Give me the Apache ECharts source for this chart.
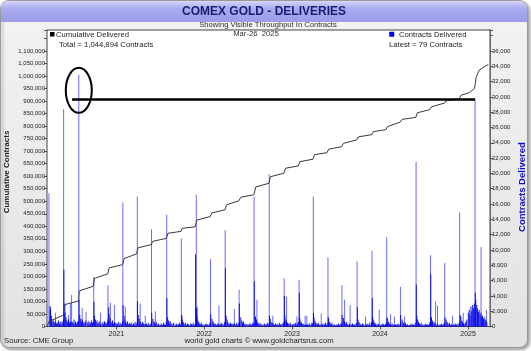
<!DOCTYPE html>
<html><head><meta charset="utf-8">
<script src="https://cdn.jsdelivr.net/npm/echarts@6/dist/echarts.min.js"></script>
<style>html,body{margin:0;padding:0;background:#fff}#c{width:531px;height:351px}</style>
</head><body><div id="c"></div>
<script>
// ---------- DATA ----------
const cumDates = ['2020-03-21','2020-03-27','2020-05-26','2020-05-29','2020-06-03','2020-07-28','2020-07-31','2020-08-05',
 '2020-09-28','2020-10-02','2020-11-26','2020-12-02','2021-01-27','2021-02-02','2021-03-26','2021-04-01',
 '2021-05-26','2021-06-01','2021-07-28','2021-08-03','2021-09-27','2021-10-01','2021-11-24','2021-12-02',
 '2022-01-26','2022-02-01','2022-03-28','2022-04-04','2022-05-25','2022-06-02','2022-07-26','2022-08-03',
 '2022-09-27','2022-10-03','2022-11-28','2022-12-05','2023-01-27','2023-02-02','2023-03-29','2023-04-04',
 '2023-05-26','2023-06-02','2023-07-26','2023-08-02','2023-09-26','2023-10-03','2023-11-28','2023-12-04',
 '2024-01-26','2024-02-01','2024-03-25','2024-04-02','2024-05-29','2024-06-04','2024-07-26','2024-08-02',
 '2024-09-25','2024-10-01','2024-11-26','2024-12-02','2025-01-07','2025-01-28','2025-02-04','2025-02-17',
 '2025-03-17','2025-03-26'];
const cumValues = [3000,20000,45000,80000,88000,102000,142000,148000,
 161000,192000,210000,234000,247000,271000,290000,314000,
 327000,340000,352000,372000,380000,392000,398000,425000,
 439000,453000,466000,486000,502000,516000,526000,557000,
 572000,598000,612000,632000,641000,658000,668000,686000,
 694000,708000,718000,731000,745000,757000,766000,778000,
 786000,798000,816000,827000,835000,853000,866000,877000,
 892000,901000,909000,923000,934000,951000,997000,1024000,
 1042000,1044894];

// isolated (light) daily spikes
const peakDates = ['2020-03-27','2020-04-03','2020-04-23','2020-05-27','2020-06-16','2020-06-24','2020-06-29','2020-07-29',
 '2020-08-12','2020-08-28','2020-09-29','2020-10-27','2020-11-27','2020-12-07','2020-12-24',
 '2021-01-28','2021-02-07','2021-03-29','2021-04-10','2021-05-01','2021-05-27','2021-06-12','2021-07-29',
 '2021-09-28','2021-10-01','2021-11-29','2021-12-03','2022-01-27','2022-03-03',
 '2022-03-29','2022-05-06','2022-05-26','2022-07-27','2022-08-08','2022-09-28','2022-10-13','2022-11-29','2022-12-09',
 '2023-01-21','2023-01-30','2023-02-24','2023-03-03','2023-03-30','2023-05-02','2023-05-30','2023-07-27','2023-08-07','2023-08-30',
 '2023-09-28','2023-11-02','2023-11-29','2023-12-29','2024-01-29','2024-02-14','2024-03-01','2024-03-26','2024-04-12','2024-05-30','2024-07-29',
 '2024-08-19','2024-08-27','2024-09-26','2024-10-28','2024-11-27','2024-12-12','2025-01-30','2025-02-24','2025-03-18','2025-03-26'];
const peakValues = [17400,2600,1800,28400,1500,3100,4100,32900,
 2400,1900,6500,1800,5400,3100,2800,
 16200,2600,17000,3000,1400,12700,2000,14600,
 11500,1400,17200,2600,8800,2700,
 12600,2300,4800,17000,3500,19900,1400,6300,3900,
 1300,6100,1400,1400,17000,1700,9000,5400,3500,2800,
 8500,1300,9900,2200,11700,1600,1300,5200,1300,21500,9300,
 3300,2700,8300,1400,14900,1800,29700,10400,2200,79];

// dense (dark) companion days next to the spikes
const clusterDates = ['2020-03-31','2020-05-28','2020-06-01','2020-07-30','2020-09-30','2020-11-30','2021-01-29','2021-03-30',
 '2021-05-28','2021-07-30','2021-09-29','2021-11-26','2021-11-30','2022-01-28','2022-03-30','2022-05-27',
 '2022-07-28','2022-09-29','2022-11-30','2023-01-31','2023-03-31','2023-05-31','2023-07-28','2023-09-29',
 '2023-11-30','2024-01-30','2024-03-27','2024-05-31','2024-07-30','2024-09-27','2024-11-29','2025-01-31'];
const clusterValues = [2600,7400,3000,3500,3200,2500,2800,3300,
 1800,3700,1500,9400,2400,1600,7600,3000,
 5900,1400,4000,4400,1800,1200,1500,2500,
 3700,1200,1500,5500,6800,1200,1500,4400];

// background daily deliveries, hundreds of contracts, ~8 readings per month
const baseMonths = ['2020-04','2020-05','2020-06','2020-07','2020-08','2020-09','2020-10','2020-11','2020-12',
 '2021-01','2021-02','2021-03','2021-04','2021-05','2021-06','2021-07','2021-08','2021-09','2021-10','2021-11','2021-12',
 '2022-01','2022-02','2022-03','2022-04','2022-05','2022-06','2022-07','2022-08','2022-09','2022-10','2022-11','2022-12',
 '2023-01','2023-02','2023-03','2023-04','2023-05','2023-06','2023-07','2023-08','2023-09','2023-10','2023-11','2023-12',
 '2024-01','2024-02','2024-03','2024-04','2024-05','2024-06','2024-07','2024-08','2024-09','2024-10','2024-11','2024-12',
 '2025-01','2025-02','2025-03'];
const baseHundreds = ['22,14,9,6,8,5,7,4','5,8,4,6,3,7,5,9','18,12,8,6,9,5,7,6','6,4,9,5,7,4,6,8','15,10,7,9,5,6,4,8',
 '5,7,3,6,4,8,5,6','14,9,6,8,4,5,7,3','4,6,3,7,5,4,6,9','16,11,7,5,8,4,6,5',
 '4,3,6,2,5,4,3,7','14,9,6,4,7,3,5,4','3,5,2,4,3,6,2,5','15,10,7,5,3,6,4,3','3,4,2,5,3,2,4,6','10,7,5,3,6,2,4,3',
 '2,4,3,2,5,3,2,6','12,8,5,7,3,4,2,5','3,2,4,2,3,5,2,4','9,6,4,3,5,2,4,3','2,4,3,2,5,3,2,4','13,8,6,4,3,5,2,3',
 '2,3,4,2,3,2,5,3','10,7,5,3,4,2,3,4','3,2,4,3,5,2,3,6','14,9,6,4,3,5,3,4','3,4,2,3,5,2,4,6','12,8,5,7,3,4,2,3',
 '3,2,4,3,2,5,3,5','13,9,6,4,5,3,4,2','3,2,4,2,3,5,2,4','10,6,4,5,3,2,4,3','3,2,5,3,2,4,3,6','14,9,7,5,4,3,5,3',
 '3,2,4,3,5,2,4,6','11,7,5,3,4,2,3,2','2,3,2,4,3,2,5,4','12,8,5,4,3,5,2,3','3,2,4,2,3,5,2,4','10,6,4,3,5,2,3,2',
 '2,3,2,4,2,3,5,3','11,7,5,4,6,3,2,4','2,3,4,2,3,2,4,5','9,6,4,3,2,4,3,2','3,2,4,2,3,5,2,6','12,8,5,4,3,2,4,3',
 '2,3,2,4,3,2,3,5','10,6,4,3,2,4,3,2','2,3,2,3,4,2,3,5','9,6,4,3,5,2,3,2','2,3,2,4,2,3,2,5','14,9,6,4,3,5,2,3',
 '2,3,4,2,3,2,4,6','12,8,5,6,3,4,2,3','2,3,2,4,2,3,4,5','9,6,4,3,5,2,3,2','3,2,4,3,2,4,3,6','13,8,6,4,3,5,7,9',
 '18,22,15,26,20,28,24,30','35,28,24,19,22,16,18,12','14,10,12,8,9,6'];

// annotation (horizontal record line and circled spike)
const recordLine = {from:'2020-07-01', to:'2025-01-30', level:908000};
const circledSpike = {date:'2020-07-29', level:943000};

// ---------- CHART ----------
const FONT = '"Liberation Sans", Arial, sans-serif';
const DARK = 'rgba(0,0,230,0.92)';
const LIGHT = 'rgba(80,80,255,0.85)';
const barData = [];
peakDates.forEach((d,i)=>barData.push({value:[d,peakValues[i]], itemStyle:{color:LIGHT}}));
baseMonths.forEach((m,k)=>{
  baseHundreds[k].split(',').forEach((s,i)=>{
    const day = 2 + Math.round(i*3.6);
    barData.push({value:[m+'-'+String(day).padStart(2,'0'), Number(s)*100], itemStyle:{color:DARK}});
  });
});
clusterDates.forEach((d,i)=>barData.push({value:[d,clusterValues[i]], itemStyle:{color:DARK}}));
const cumData = cumDates.map((d,i)=>[d,cumValues[i]]);

const chart = echarts.init(document.getElementById('c'), null, {renderer:'canvas'});
const G = echarts.graphic;
const option = {
  animation:false,
  textStyle:{fontFamily:FONT},
  grid:{left:47, top:30, width:443, height:296.5, show:true, backgroundColor:'#ffffff', borderColor:'#444', borderWidth:1, z:1},
  xAxis:{type:'time', min:'2020-03-21', max:'2025-03-31', minInterval:365*864e5, maxInterval:366*864e5,
    axisLine:{show:true, lineStyle:{color:'#666'}},
    axisTick:{show:true, length:3, lineStyle:{color:'#555'}},
    axisLabel:{fontSize:7, color:'#222', margin:4, fontFamily:FONT, showMinLabel:false, showMaxLabel:false,
      formatter:(v)=>{const d=new Date(v); return (d.getMonth()===0 && d.getDate()===1)? String(d.getFullYear()) : '';}},
    splitLine:{show:true, lineStyle:{color:'#e2ecf8', width:1}}},
  yAxis:[
    {type:'value', position:'left', min:0, max:1183800, interval:50000,
     axisLine:{show:true, lineStyle:{color:'#444'}},
     axisTick:{show:true, length:3, lineStyle:{color:'#555'}},
     axisLabel:{fontSize:6, color:'#222', margin:2, fontFamily:FONT,
       formatter:(v)=> v>1100000 ? '' : v.toLocaleString('en-US')},
     splitLine:{show:true, lineStyle:{color:'#e2ecf8'}}},
    {type:'value', position:'right', min:0, max:38744, interval:2000,
     axisLine:{show:true, lineStyle:{color:'#8c8c8c', width:2}},
     axisTick:{show:true, length:3, lineStyle:{color:'#555'}},
     axisLabel:{fontSize:6, color:'#222', margin:2, fontFamily:FONT,
       formatter:(v)=> v>36000 ? '' : v.toLocaleString('en-US')},
     splitLine:{show:false}}
  ],
  series:[
    {name:'Contracts Delivered', type:'bar', xAxisIndex:0, yAxisIndex:1, barWidth:1, data:barData,
     itemStyle:{color:'#0000ff'}, z:2, silent:true},
    {name:'Cumulative Delivered', type:'line', xAxisIndex:0, yAxisIndex:0, data:cumData, showSymbol:false, symbol:'none',
     lineStyle:{color:'#3a3a3a', width:1}, z:4, silent:true,
     markLine:{silent:true, symbol:['none','none'], label:{show:false}, lineStyle:{color:'#000', width:2.6, type:'solid'},
       data:[[{coord:[recordLine.from, recordLine.level]},{coord:[recordLine.to, recordLine.level]}]]}}
  ],
  graphic:{elements:[
    {type:'rect', id:'frame', z:-100, shape:{x:0.5,y:0.5,width:527,height:347,r:8},
     style:{fill:new G.LinearGradient(0,0,0,1,[{offset:0,color:'#f3f3f3'},{offset:1,color:'#e2e2e2'}]), stroke:'#9a9a9a', lineWidth:1,
       shadowColor:'rgba(0,0,0,0.35)', shadowBlur:3, shadowOffsetX:2, shadowOffsetY:2}},
    {type:'rect', id:'band', z:-90, shape:{x:1,y:1,width:526,height:21,r:[8,8,0,0]},
     style:{fill:new G.LinearGradient(0,0,0,1,[{offset:0,color:'#d6d6fa'},{offset:0.35,color:'#ababf0'},{offset:1,color:'#9c9ce8'}])}},
    {type:'text', z:10, x:264, y:12, style:{text:'COMEX GOLD - DELIVERIES', font:'bold 12px '+FONT, fill:'#1b1b72', align:'center', verticalAlign:'middle'}},
    {type:'text', z:10, x:268, y:24.5, style:{text:'Showing Visible Throughput In Contracts', font:'7.6px '+FONT, fill:'#333', align:'center', verticalAlign:'middle'}},
    {type:'text', z:10, x:256, y:34, style:{text:'Mar-26  2025', font:'7.7px '+FONT, fill:'#333', align:'center', verticalAlign:'middle'}},
    {type:'rect', z:10, shape:{x:50,y:32,width:4.5,height:4.5}, style:{fill:'#000'}},
    {type:'text', z:10, x:56, y:34.5, style:{text:'Cumulative Delivered', font:'7.7px '+FONT, fill:'#222', verticalAlign:'middle'}},
    {type:'text', z:10, x:59, y:45, style:{text:'Total = 1,044,894 Contracts', font:'7.7px '+FONT, fill:'#222', verticalAlign:'middle'}},
    {type:'rect', z:10, shape:{x:389.5,y:32,width:4.5,height:4.5}, style:{fill:'#0000ff', stroke:'#000088', lineWidth:0.5}},
    {type:'text', z:10, x:399, y:34.5, style:{text:'Contracts Delivered', font:'7.7px '+FONT, fill:'#222', verticalAlign:'middle'}},
    {type:'text', z:10, x:389, y:45, style:{text:'Latest = 79 Contracts', font:'7.7px '+FONT, fill:'#222', verticalAlign:'middle'}},
    {type:'text', z:10, x:7, y:172, rotation:Math.PI/2, style:{text:'Cumulative Contracts', font:'bold 8px '+FONT, fill:'#222', align:'center', verticalAlign:'middle'}},
    {type:'text', z:10, x:522, y:187, rotation:Math.PI/2, style:{text:'Contracts Delivered', font:'bold 9.5px '+FONT, fill:'#1010d0', align:'center', verticalAlign:'middle'}},
    {type:'text', z:10, x:4, y:341, style:{text:'Source: CME Group', font:'7.7px '+FONT, fill:'#222', verticalAlign:'middle'}},
    {type:'text', z:10, x:259, y:341, style:{text:'world gold charts \u00a9 www.goldchartsrus.com', font:'7.7px '+FONT, fill:'#222', align:'center', verticalAlign:'middle'}}
  ]}
};
chart.setOption(option);
const c = chart.convertToPixel({xAxisIndex:0, yAxisIndex:0}, [circledSpike.date, circledSpike.level]);
chart.setOption({graphic:{elements:[
  {type:'ellipse', id:'ring', z:20, shape:{cx:c[0], cy:c[1], rx:13, ry:22.5}, style:{fill:null, stroke:'#000', lineWidth:2}}
]}});
</script></body></html>
